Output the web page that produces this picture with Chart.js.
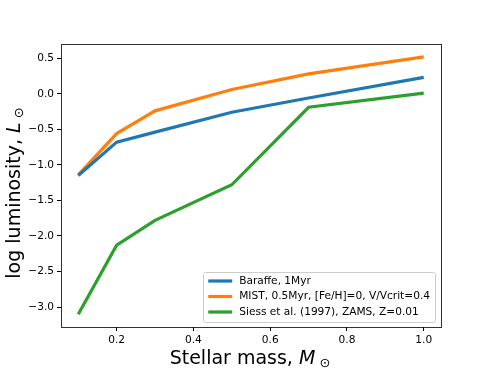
<!DOCTYPE html>
<html>
<head>
<meta charset="utf-8">
<script src="https://cdn.jsdelivr.net/npm/chart.js@4/dist/chart.umd.min.js"></script>
<style>
  html, body { margin: 0; padding: 0; background: #fff; }
  #wrap { width: 490px; height: 368px; }
</style>
</head>
<body>
<div id="wrap"><canvas id="lumChart" width="490" height="368"></canvas></div>
<script>
// Stellar masses (solar units) shared by all three tracks
const masses = [0.1, 0.2, 0.3, 0.5, 0.7, 1.0];

// log L for each model
const baraffe = [-1.15, -0.68, -0.54, -0.26, -0.06, 0.23];
const mist = [-1.14, -0.56, -0.24, 0.06, 0.28, 0.52];
const siess = [-3.10, -2.13, -1.78, -1.28, -0.19, 0.01];

const seriesNames = [
    'Baraffe, 1Myr',
    'MIST, 0.5Myr, [Fe/H]=0, V/Vcrit=0.4',
    'Siess et al. (1997), ZAMS, Z=0.01'
];

const xTicks = [0.2, 0.4, 0.6, 0.8, 1.0];
const yTicks = [0.5, 0.0, -0.5, -1.0, -1.5, -2.0, -2.5, -3.0];

const colors = {
    blue: '#1f77b4',
    orange: '#ff7f0e',
    green: '#2ca02c'
};

const FONT = '"DejaVu Sans", sans-serif';
const SMALL = 10.6;
const BIG = 19;

function toPoints(ys) {
    return masses.map((m, i) => ({ x: m, y: ys[i] }));
}

// frame around the plot area (matplotlib spines)
const framePlugin = {
    id: 'frame',
    afterDraw(chart) {
        const { ctx, chartArea: a } = chart;
        ctx.save();
        ctx.strokeStyle = 'rgba(0,0,0,0.8)';
        ctx.lineWidth = 1;
        ctx.strokeRect(Math.round(a.left) + 0.5, Math.round(a.top) + 0.5,
            Math.round(a.right - a.left), Math.round(a.bottom - a.top));
        ctx.restore();
    }
};

// axis labels with italic symbol and sun subscript
function drawLabel(ctx, parts, size) {
    let total = 0;
    parts.forEach(p => {
        ctx.font = (p.italic ? 'italic ' : '') + Math.round(size * (p.scale || 1)) + 'px ' + FONT;
        p.w = ctx.measureText(p.text).width;
        total += p.w;
    });
    let x = -total / 2;
    parts.forEach(p => {
        ctx.font = (p.italic ? 'italic ' : '') + Math.round(size * (p.scale || 1)) + 'px ' + FONT;
        ctx.fillText(p.text, x, p.dy || 0);
        x += p.w;
    });
}

const labelPlugin = {
    id: 'axisLabels',
    afterDraw(chart) {
        const { ctx, chartArea: a } = chart;
        ctx.save();
        ctx.fillStyle = '#000';
        ctx.textBaseline = 'alphabetic';
        ctx.textAlign = 'left';
        // x label
        ctx.save();
        ctx.translate((a.left + a.right) / 2 - 1, 364);
        drawLabel(ctx, [
            { text: 'Stellar mass, ' },
            { text: 'M', italic: true },
            { text: ' \u2299', scale: 0.7, dy: 3 }
        ], BIG);
        ctx.restore();
        // y label
        ctx.save();
        ctx.translate(20, 193);
        ctx.rotate(-Math.PI / 2);
        drawLabel(ctx, [
            { text: 'log luminosity, ' },
            { text: 'L', italic: true },
            { text: ' \u2299', scale: 0.7, dy: 3 }
        ], BIG);
        ctx.restore();
        ctx.restore();
    }
};

// legend box in the lower right of the plot
const legendPlugin = {
    id: 'boxLegend',
    afterDraw(chart) {
        const { ctx, chartArea: a } = chart;
        const ds = chart.data.datasets;
        ctx.save();
        ctx.font = SMALL + 'px ' + FONT;
        let maxW = 0;
        ds.forEach(d => { maxW = Math.max(maxW, ctx.measureText(d.label).width); });
        const rowH = 15.5;
        const w = 36 + maxW + 5;
        const h = 50;
        const x0 = a.right - 6 - w;
        const y0 = a.bottom - 5 - h;
        ctx.fillStyle = 'rgba(255,255,255,0.8)';
        ctx.strokeStyle = '#cccccc';
        ctx.lineWidth = 1;
        ctx.beginPath();
        ctx.roundRect(Math.round(x0) + 0.5, Math.round(y0) + 0.5, Math.round(w), Math.round(h), 2);
        ctx.fill();
        ctx.stroke();
        ds.forEach((d, i) => {
            const cy = y0 + 9 + i * rowH;
            ctx.strokeStyle = d.borderColor;
            ctx.lineWidth = 3.2;
            ctx.beginPath();
            ctx.moveTo(x0 + 5, cy);
            ctx.lineTo(x0 + 29, cy);
            ctx.stroke();
            ctx.fillStyle = '#000';
            ctx.textBaseline = 'middle';
            ctx.fillText(d.label, x0 + 36, cy);
        });
        ctx.restore();
    }
};

const ctx = document.getElementById('lumChart').getContext('2d');
new Chart(ctx, {
    type: 'line',
    data: {
        datasets: [
            { label: seriesNames[0], data: toPoints(baraffe), borderColor: colors.blue },
            { label: seriesNames[1], data: toPoints(mist), borderColor: colors.orange },
            { label: seriesNames[2], data: toPoints(siess), borderColor: colors.green }
        ].map(d => Object.assign(d, {
            borderWidth: 3.2,
            pointRadius: 0,
            fill: false,
            tension: 0,
            borderCapStyle: 'butt',
            borderJoinStyle: 'miter'
        }))
    },
    options: {
        responsive: false,
        animation: false,
        layout: { padding: { left: 0, top: 44, right: 49, bottom: 0 } },
        plugins: {
            legend: { display: false },
            tooltip: { enabled: false }
        },
        scales: {
            x: {
                type: 'linear',
                min: 0.055,
                max: 1.045,
                afterFit: s => { s.height = 41; },
                afterBuildTicks: s => { s.ticks = xTicks.map(v => ({ value: v })); },
                grid: { drawOnChartArea: false, drawTicks: true, tickLength: 4, color: '#000', tickWidth: 1 },
                border: { display: false },
                ticks: {
                    font: { family: FONT, size: SMALL },
                    color: '#000',
                    padding: 3,
                    maxRotation: 0,
                    callback: v => v.toFixed(1)
                }
            },
            y: {
                type: 'linear',
                min: -3.28,
                max: 0.70,
                afterFit: s => { s.width = 61; },
                afterBuildTicks: s => { s.ticks = yTicks.map(v => ({ value: v })); },
                grid: { drawOnChartArea: false, drawTicks: true, tickLength: 4, color: '#000', tickWidth: 1 },
                border: { display: false },
                ticks: {
                    font: { family: FONT, size: SMALL },
                    color: '#000',
                    padding: 3,
                    callback: v => (v < 0 ? '\u2212' + Math.abs(v).toFixed(1) : v.toFixed(1))
                }
            }
        }
    },
    plugins: [framePlugin, labelPlugin, legendPlugin]
});
</script>
</body>
</html>
